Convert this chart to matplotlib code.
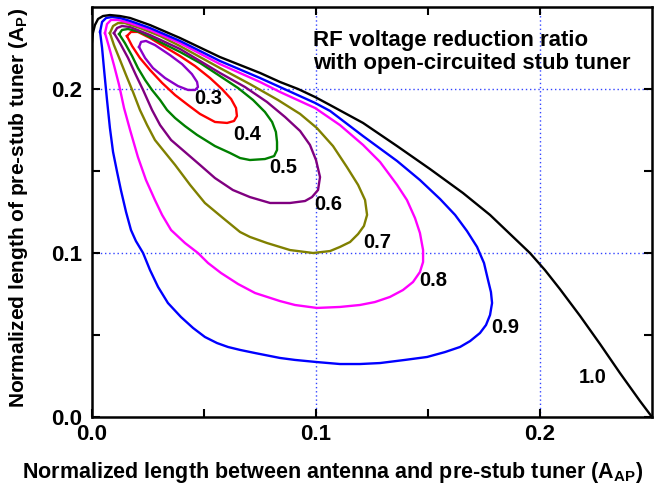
import matplotlib
matplotlib.use("Agg")
import matplotlib.pyplot as plt

plt.rcParams['font.family'] = ['Liberation Sans', 'DejaVu Sans']
plt.rcParams['font.weight'] = 'bold'
plt.rcParams['mathtext.fontset'] = 'custom'
plt.rcParams['mathtext.rm'] = 'Liberation Sans:bold'
plt.rcParams['mathtext.bf'] = 'Liberation Sans:bold'
plt.rcParams['mathtext.default'] = 'bf'

# contour levels (RF voltage reduction ratio)
levels = ['0.3', '0.4', '0.5', '0.6', '0.7', '0.8', '0.9', '1.0']
level_colors = ['#8B00C8', '#FF0000', '#008000', '#800080',
                '#808000', '#FF00FF', '#0000FF', '#000000']

# closed contours: x = A_AP, y = A_P
c03_x = [0.0210, 0.0219, 0.0241, 0.0281, 0.0348, 0.0402, 0.0446, 0.0469, 0.0473, 0.0460,
         0.0429, 0.0384, 0.0326, 0.0272, 0.0237]
c03_y = [0.2256, 0.2287, 0.2293, 0.2268, 0.2207, 0.2152, 0.2091, 0.2043, 0.2012, 0.1994,
         0.1994, 0.2018, 0.2067, 0.2128, 0.2189]

c04_x = [0.0156, 0.0174, 0.0205, 0.0259, 0.0326, 0.0393, 0.0460, 0.0527, 0.0580, 0.0621,
         0.0643, 0.0647, 0.0634, 0.0603, 0.0549, 0.0482, 0.0429, 0.0371, 0.0313, 0.0259,
         0.0214, 0.0179]
c04_y = [0.2323, 0.2348, 0.2348, 0.2311, 0.2256, 0.2201, 0.2140, 0.2067, 0.2000, 0.1939,
         0.1884, 0.1835, 0.1805, 0.1793, 0.1799, 0.1848, 0.1902, 0.1963, 0.2037, 0.2116,
         0.2189, 0.2262]

c05_x = [0.0121, 0.0134, 0.0161, 0.0214, 0.0259, 0.0393, 0.0482, 0.0571, 0.0652, 0.0719,
         0.0772, 0.0804, 0.0821, 0.0826, 0.0826, 0.0813, 0.0772, 0.0705, 0.0661, 0.0616,
         0.0549, 0.0469, 0.0415, 0.0371, 0.0335, 0.0304, 0.0268, 0.0237, 0.0205, 0.0179,
         0.0147]
c05_y = [0.2335, 0.2360, 0.2366, 0.2348, 0.2317, 0.2226, 0.2159, 0.2079, 0.2006, 0.1933,
         0.1860, 0.1799, 0.1738, 0.1677, 0.1628, 0.1591, 0.1573, 0.1567, 0.1579, 0.1610,
         0.1652, 0.1720, 0.1774, 0.1823, 0.1872, 0.1933, 0.1994, 0.2055, 0.2128, 0.2201,
         0.2280]

c06_x = [0.0098, 0.0112, 0.0134, 0.0170, 0.0259, 0.0393, 0.0571, 0.0683, 0.0781, 0.0862,
         0.0929, 0.0973, 0.1000, 0.1018, 0.1009, 0.0982, 0.0951, 0.0884, 0.0795, 0.0705,
         0.0629, 0.0549, 0.0482, 0.0415, 0.0353, 0.0304, 0.0268, 0.0228, 0.0196, 0.0161,
         0.0125]
c06_y = [0.2341, 0.2372, 0.2384, 0.2378, 0.2329, 0.2244, 0.2098, 0.2012, 0.1921, 0.1829,
         0.1744, 0.1659, 0.1567, 0.1463, 0.1384, 0.1341, 0.1317, 0.1305, 0.1305, 0.1341,
         0.1384, 0.1457, 0.1537, 0.1616, 0.1689, 0.1780, 0.1872, 0.1994, 0.2085, 0.2189,
         0.2280]

c07_x = [0.0080, 0.0094, 0.0116, 0.0147, 0.0214, 0.0304, 0.0393, 0.0571, 0.0705, 0.0830,
         0.0929, 0.1004, 0.1076, 0.1138, 0.1188, 0.1219, 0.1228, 0.1214, 0.1188, 0.1152,
         0.1107, 0.1063, 0.0987, 0.0884, 0.0781, 0.0705, 0.0661, 0.0585, 0.0504, 0.0438,
         0.0371, 0.0317, 0.0281, 0.0246, 0.0214, 0.0183, 0.0152, 0.0125, 0.0098]
c07_y = [0.2341, 0.2384, 0.2402, 0.2402, 0.2372, 0.2323, 0.2262, 0.2128, 0.2030, 0.1933,
         0.1848, 0.1762, 0.1652, 0.1524, 0.1415, 0.1323, 0.1232, 0.1165, 0.1116, 0.1067,
         0.1037, 0.1012, 0.1000, 0.1018, 0.1061, 0.1098, 0.1128, 0.1213, 0.1305, 0.1415,
         0.1537, 0.1628, 0.1689, 0.1780, 0.1872, 0.1982, 0.2085, 0.2177, 0.2268]

c08_x = [0.0058, 0.0067, 0.0085, 0.0116, 0.0170, 0.0259, 0.0393, 0.0571, 0.0750, 0.0839,
         0.0996, 0.1107, 0.1210, 0.1286, 0.1362, 0.1406, 0.1442, 0.1464, 0.1478, 0.1478,
         0.1464, 0.1433, 0.1388, 0.1330, 0.1263, 0.1196, 0.1107, 0.1004, 0.0906, 0.0839,
         0.0728, 0.0652, 0.0576, 0.0518, 0.0473, 0.0415, 0.0353, 0.0313, 0.0281, 0.0241,
         0.0205, 0.0170, 0.0143, 0.0121, 0.0098, 0.0076]
c08_y = [0.2341, 0.2396, 0.2421, 0.2421, 0.2402, 0.2360, 0.2280, 0.2152, 0.2043, 0.1982,
         0.1884, 0.1780, 0.1659, 0.1555, 0.1415, 0.1323, 0.1213, 0.1122, 0.1018, 0.0945,
         0.0884, 0.0823, 0.0774, 0.0732, 0.0701, 0.0683, 0.0671, 0.0665, 0.0683, 0.0707,
         0.0756, 0.0811, 0.0878, 0.0939, 0.1000, 0.1061, 0.1140, 0.1232, 0.1323, 0.1445,
         0.1585, 0.1750, 0.1884, 0.2024, 0.2146, 0.2256]

c09_x = [0.0036, 0.0045, 0.0063, 0.0089, 0.0125, 0.0170, 0.0259, 0.0393, 0.0571, 0.0750,
         0.0839, 0.0996, 0.1063, 0.1210, 0.1362, 0.1464, 0.1554, 0.1621, 0.1674, 0.1719,
         0.1750, 0.1768, 0.1781, 0.1786, 0.1777, 0.1759, 0.1732, 0.1688, 0.1643, 0.1576,
         0.1496, 0.1397, 0.1286, 0.1196, 0.1107, 0.1004, 0.0906, 0.0839, 0.0728, 0.0661,
         0.0607, 0.0558, 0.0504, 0.0451, 0.0397, 0.0339, 0.0295, 0.0259, 0.0228, 0.0196,
         0.0174, 0.0152, 0.0129, 0.0112, 0.0094, 0.0080, 0.0067, 0.0054, 0.0045]
c09_y = [0.2348, 0.2409, 0.2433, 0.2439, 0.2433, 0.2415, 0.2372, 0.2293, 0.2171, 0.2067,
         0.2012, 0.1915, 0.1866, 0.1713, 0.1561, 0.1445, 0.1329, 0.1232, 0.1134, 0.1037,
         0.0939, 0.0835, 0.0762, 0.0695, 0.0622, 0.0561, 0.0512, 0.0463, 0.0427, 0.0396,
         0.0366, 0.0348, 0.0329, 0.0323, 0.0323, 0.0335, 0.0348, 0.0360, 0.0390, 0.0409,
         0.0427, 0.0451, 0.0488, 0.0543, 0.0610, 0.0695, 0.0793, 0.0896, 0.1000, 0.1073,
         0.1140, 0.1250, 0.1384, 0.1494, 0.1616, 0.1762, 0.1933, 0.2116, 0.2250]

# open boundary curve for 1.0
c10_x = [0.0000, 0.0004, 0.0013, 0.0027, 0.0049, 0.0080, 0.0125, 0.0170, 0.0259, 0.0393,
         0.0571, 0.0750, 0.0839, 0.0920, 0.0996, 0.1063, 0.1210, 0.1362, 0.1509, 0.1656,
         0.1777, 0.1866, 0.1955, 0.2022, 0.2089, 0.2179, 0.2268, 0.2357, 0.2446, 0.2500]
c10_y = [0.2287, 0.2341, 0.2390, 0.2427, 0.2445, 0.2451, 0.2445, 0.2433, 0.2390, 0.2311,
         0.2195, 0.2098, 0.2043, 0.2000, 0.1951, 0.1902, 0.1793, 0.1652, 0.1512, 0.1366,
         0.1232, 0.1116, 0.1000, 0.0896, 0.0780, 0.0616, 0.0445, 0.0268, 0.0098, 0.0000]

curves_x = [c03_x, c04_x, c05_x, c06_x, c07_x, c08_x, c09_x, c10_x]
curves_y = [c03_y, c04_y, c05_y, c06_y, c07_y, c08_y, c09_y, c10_y]

# where the level numbers sit
label_x = [0.0518, 0.0692, 0.0853, 0.1054, 0.1272, 0.1522, 0.1844, 0.2237]
label_y = [0.1945, 0.1720, 0.1524, 0.1293, 0.1067, 0.0835, 0.0543, 0.0238]

fig = plt.figure(figsize=(6.54, 4.9), dpi=100)
ax = fig.add_axes([92 / 654, 73 / 490, 560 / 654, 410 / 490])

for cx, cy, col, lev in zip(curves_x, curves_y, level_colors, levels):
    if lev != '1.0':
        cx = cx + cx[:1]
        cy = cy + cy[:1]
    ax.plot(cx, cy, color=col, lw=1.7, solid_joinstyle='round')

for lx, ly, lev in zip(label_x, label_y, levels):
    ax.text(lx, ly, lev, ha='center', va='center', fontsize=14.5, fontweight='bold')

# dotted blue grid at the labelled ticks
for g in [0.1, 0.2]:
    ax.axvline(g, color='#3344FF', lw=1.0, ls=(0, (1, 2)), zorder=0)
    ax.axhline(g, color='#3344FF', lw=1.0, ls=(0, (1, 2)), zorder=0)

ax.text(0.0987, 0.2358, "RF voltage reduction ratio\nwith open-circuited stub tuner",
        ha='left', va='top', fontsize=16, fontweight='bold', linespacing=1.08)

ax.set_xlim(0, 0.25)
ax.set_ylim(0, 0.25)
ax.set_xticks([0, 0.1, 0.2])
ax.set_xticklabels(['0.0', '0.1', '0.2'])
ax.set_yticks([0, 0.1, 0.2])
ax.set_yticklabels(['0.0', '0.1', '0.2'])
ax.set_xticks([0.05, 0.15], minor=True)
ax.set_yticks([0.05, 0.15], minor=True)
ax.tick_params(which='both', direction='in', top=True, right=True, width=1.5, length=6)
ax.tick_params(axis='x', labelsize=16, pad=5)
ax.tick_params(axis='y', labelsize=16, pad=7)
for lab in ax.get_xticklabels() + ax.get_yticklabels():
    lab.set_fontweight('bold')
for sp in ax.spines.values():
    sp.set_linewidth(1.8)

ax.set_xlabel("Normalized length between antenna and pre-stub tuner (A$_{AP}$)",
              fontsize=15.5, fontweight='bold')
ax.xaxis.set_label_coords(0.43, -0.105)
ax.set_ylabel("Normalized length of pre-stub tuner (A$_{P}$)", fontsize=15, fontweight='bold')
ax.yaxis.set_label_coords(-0.11, 0.51)

fig.savefig("out.png", dpi=100)
